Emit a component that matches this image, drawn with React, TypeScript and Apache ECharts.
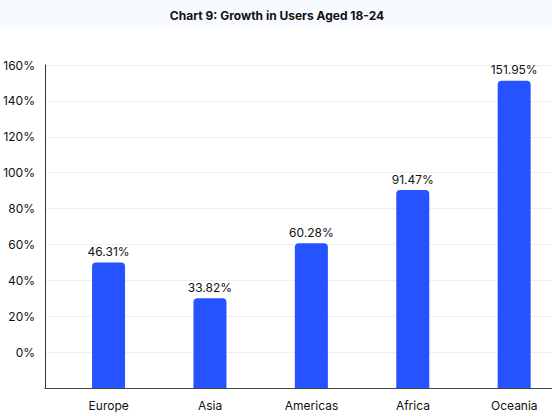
import React, { useEffect, useRef } from "react";
import * as echarts from "echarts";

const titleText = "Chart 9: Growth in Users Aged 18-24";
const categories = ["Europe", "Asia", "Americas", "Africa", "Oceania"];
// bar heights as drawn in the picture
const barValues = [50, 30, 60.7, 90.3, 151.2];
// value labels printed above the bars
const barLabels = ["46.31%", "33.82%", "60.28%", "91.47%", "151.95%"];
const yMin = -20;
const yMax = 160;
const yInterval = 20;

export default function App() {
  const ref = useRef<HTMLDivElement>(null);
  useEffect(() => {
    document.body.style.margin = "0";
    if (!ref.current) return;
    const chart = echarts.init(ref.current, null, { renderer: "svg" });
    const font = "Inter, 'Noto Sans', sans-serif";
    chart.setOption({
      animation: false,
      backgroundColor: "transparent",
      title: {
        text: titleText,
        left: 272,
        textAlign: "center",
        top: 4,
        textStyle: { fontFamily: font, fontSize: 12, fontWeight: "bold", color: "#111" },
      },
      grid: { left: 43, right: 0, top: 65, bottom: 28, containLabel: false },
      xAxis: {
        type: "category",
        data: categories,
        axisLine: { show: true, onZero: false, lineStyle: { color: "#444", width: 1 } },
        axisTick: { show: false },
        axisLabel: {
          fontFamily: font,
          fontSize: 12,
          color: "#111",
          margin: 11,
          padding: [0, 0, 0, 26],
        },
      },
      yAxis: {
        type: "value",
        min: yMin,
        max: yMax,
        interval: yInterval,
        startValue: yMin,
        axisLine: { show: true, lineStyle: { color: "#333", width: 1 } },
        axisTick: { show: false },
        splitLine: { lineStyle: { color: "#eeeeee", width: 1 } },
        axisLabel: {
          showMinLabel: false,
          fontFamily: font,
          fontSize: 12,
          color: "#111",
          margin: 10,
          formatter: (v: number) => `${v}%`,
        },
      },
      series: [
        {
          type: "bar",
          data: categories.map(() => "-"),
          barWidth: 33,
          barGap: "-22%",
          silent: true,
        },
        {
          type: "bar",
          data: barValues,
          barWidth: 33,
          barGap: "-22%",
          itemStyle: { color: "#2553FF", borderRadius: [4, 4, 0, 0] },
          label: {
            show: true,
            position: "top",
            distance: 5,
            fontFamily: font,
            fontSize: 12,
            color: "#111",
            formatter: (p: any) => barLabels[p.dataIndex],
          },
        },
      ],
    });
    return () => chart.dispose();
  }, []);
  return (
    <div
      style={{
        width: 552,
        height: 416,
        background: "linear-gradient(to bottom, #f7fafe 0px, #f7fafe 28px, #ffffff 28px)",
      }}
    >
      <div ref={ref} style={{ width: 552, height: 416 }} />
    </div>
  );
}
